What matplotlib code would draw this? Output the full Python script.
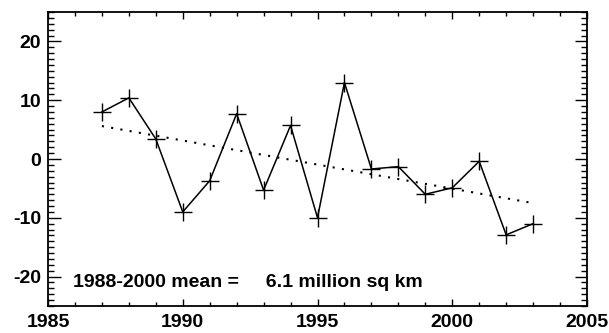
import numpy as np
import matplotlib
matplotlib.use("Agg")
import matplotlib.pyplot as plt
from matplotlib.ticker import MultipleLocator

years = np.arange(1987, 2004)
anomaly = [8.0, 10.4, 3.4, -9.0, -3.7, 7.7, -5.3, 5.7, -10.0, 13.0,
           -1.7, -1.3, -6.0, -4.9, -0.4, -12.9, -11.0]
trend_years = [1987, 2003]
trend_vals = [5.6, -7.5]
note = "1988-2000 mean =     6.1 million sq km"

plt.rcParams['font.family'] = ['Liberation Sans', 'DejaVu Sans']
plt.rcParams['font.weight'] = 'bold'
plt.rcParams['axes.unicode_minus'] = False

fig = plt.figure(figsize=(6.09, 3.33), dpi=100)
ax = fig.add_axes([48 / 609, 1 - 306 / 333, 539 / 609, 294 / 333])

ax.plot(years, anomaly, color='black', lw=1.1, marker='+', ms=13, mew=1.0)
ax.plot(trend_years, trend_vals, color='black', lw=1.5, linestyle=(0, (1, 3.5)))

ax.set_xlim(1985, 2005)
ax.set_ylim(-25, 25)
ax.xaxis.set_major_locator(MultipleLocator(5))
ax.xaxis.set_minor_locator(MultipleLocator(1))
ax.yaxis.set_major_locator(MultipleLocator(10))
ax.yaxis.set_minor_locator(MultipleLocator(1))
ax.tick_params(which='both', direction='in', top=True, right=True, width=1.0,
               labelsize=14)
ax.tick_params(axis='x', which='major', length=5, pad=6)
ax.tick_params(axis='x', which='minor', length=2.8)
ax.tick_params(axis='y', which='major', length=9, pad=5)
ax.tick_params(axis='y', which='minor', length=4)
for s in ax.spines.values():
    s.set_linewidth(1.3)
for lab in ax.get_xticklabels() + ax.get_yticklabels():
    lab.set_fontweight('bold')

ax.text(1985.93, -21, note, fontsize=14, fontweight='bold', va='center', ha='left')

fig.savefig("out.png", dpi=100)
